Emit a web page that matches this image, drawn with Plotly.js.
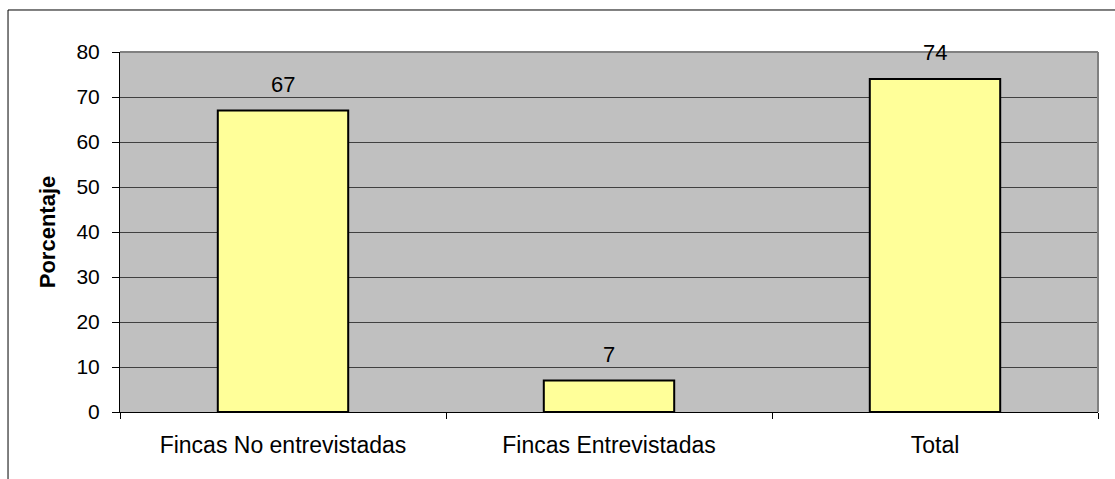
<!DOCTYPE html>
<html>
<head>
<meta charset="utf-8">
<script src="https://cdn.plot.ly/plotly-3.0.1.min.js"></script>
<style>html,body{margin:0;padding:0;background:#fff;}#chart{width:1115px;height:479px;}</style>
</head>
<body>
<div id="chart"></div>
<script>
const categories = ["Fincas No entrevistadas", "Fincas Entrevistadas", "Total"];
const values = [67, 7, 74];
const yTicks = [0, 10, 20, 30, 40, 50, 60, 70, 80];
const yTitle = "Porcentaje";

const font = "Arial, 'Liberation Sans', sans-serif";

const trace = {
  type: "bar",
  x: categories,
  y: values,
  width: 0.4,
  marker: {color: "#FFFF99", line: {color: "#000000", width: 2}},
  hoverinfo: "skip"
};

const annotations = categories.map((c, i) => ({
  x: c, y: values[i], xref: "x", yref: "y",
  text: String(values[i]), showarrow: false,
  yanchor: "bottom", yshift: 12,
  font: {family: font, size: 22, color: "#000"}
}));

const layout = {
  width: 1115, height: 479,
  margin: {l: 120, r: 17, t: 52, b: 67},
  paper_bgcolor: "#ffffff",
  plot_bgcolor: "#C0C0C0",
  showlegend: false,
  font: {family: font, color: "#000"},
  xaxis: {
    type: "category",
    tickson: "boundaries",
    ticks: "outside", ticklen: 6, tickcolor: "#000", tickwidth: 1,
    showline: true, linecolor: "#000", linewidth: 1,
    showgrid: false, zeroline: false,
    tickfont: {family: font, size: 23, color: "#000"},
    ticklabelstandoff: 12
  },
  yaxis: {
    range: [0, 80],
    tickvals: yTicks,
    ticks: "outside", ticklen: 7, tickcolor: "#000", tickwidth: 1,
    showline: true, linecolor: "#000", linewidth: 1,
    showgrid: true, gridcolor: "#404040", gridwidth: 1,
    zeroline: false,
    tickfont: {family: font, size: 21, color: "#000"},
    ticklabelstandoff: 8,
    title: {text: yTitle, font: {family: font, size: 22, color: "#000", weight: "bold"}, standoff: 14}
  },
  bargap: 0.6,
  annotations: annotations,
  shapes: [
    {type: "rect", xref: "paper", yref: "paper", x0: -0.1145, x1: 1.03, y0: -0.2, y1: 1.1167,
     line: {color: "#000", width: 1}, fillcolor: "rgba(0,0,0,0)", layer: "below"},
    {type: "line", xref: "paper", yref: "paper", x0: 0, x1: 1, y0: 1, y1: 1,
     line: {color: "#808080", width: 2}, layer: "above"},
    {type: "line", xref: "paper", yref: "paper", x0: 1, x1: 1, y0: 0, y1: 1,
     line: {color: "#808080", width: 2}, layer: "above"}
  ]
};

Plotly.newPlot("chart", [trace], layout, {displayModeBar: false, staticPlot: true});
</script>
</body>
</html>
